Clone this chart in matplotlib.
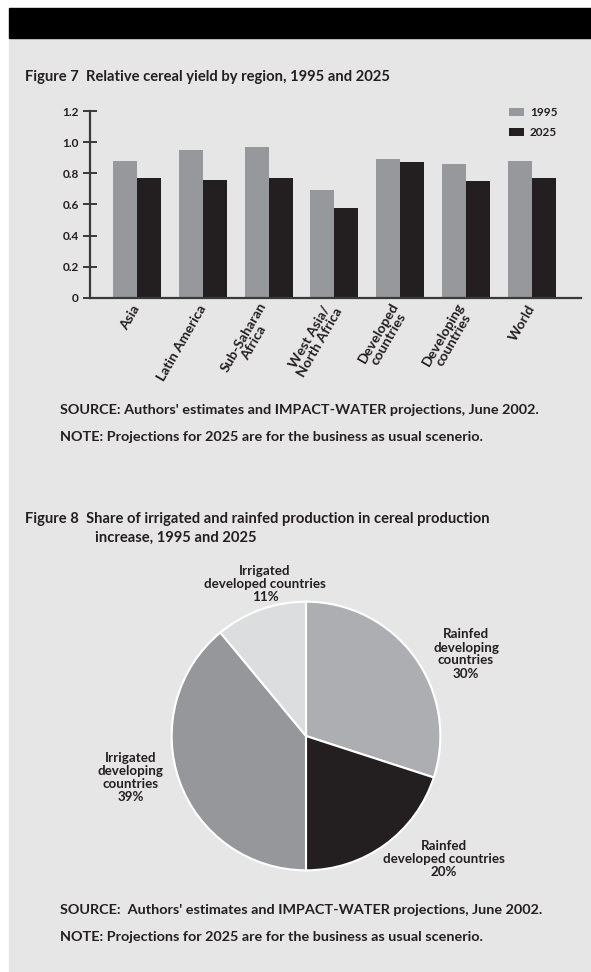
import matplotlib
matplotlib.use('Agg')
import matplotlib.pyplot as plt
import numpy as np

plt.rcParams['font.family'] = ['Lato', 'DejaVu Sans']
plt.rcParams['font.weight'] = 'bold'

# Figure 7 data
regions = ['Asia', 'Latin America', 'Sub-Saharan\nAfrica', 'West Asia/\nNorth Africa',
           'Developed\ncountries', 'Developing\ncountries', 'World']
yield_1995 = [0.88, 0.95, 0.97, 0.69, 0.89, 0.86, 0.88]
yield_2025 = [0.77, 0.76, 0.77, 0.58, 0.87, 0.75, 0.77]
yticks = [0, 0.2, 0.4, 0.6, 0.8, 1.0, 1.2]
ytick_labels = ['0', '0.2', '0.4', '0.6', '0.8', '1.0', '1.2']

# Figure 8 data
slice_names = ['Rainfed\ndeveloping\ncountries', 'Rainfed\ndeveloped countries',
               'Irrigated\ndeveloping\ncountries', 'Irrigated\ndeveloped countries']
slice_shares = [30, 20, 39, 11]

BG = '#e6e6e6'
GREY = '#97989b'
DARK = '#231f20'
TXT = '#231f20'
W, H = 591, 972

fig = plt.figure(figsize=(W / 100, H / 100), dpi=100, facecolor='white')

def px(x, y):
    return x / W, 1 - y / H

# page background and black header band
fig.patches.append(plt.Rectangle(px(9, H), (W - 9) / W, (H - 38) / H,
                                 transform=fig.transFigure, color=BG, zorder=-10))
fig.patches.append(plt.Rectangle(px(9, 38), (W - 9) / W, 30 / H,
                                 transform=fig.transFigure, color='black', zorder=-10))

# ---- Figure 7: bar chart
ax = fig.add_axes([90 / W, 1 - 298 / H, (581 - 90) / W, (298 - 111) / H])
ax.set_facecolor('none')
x = np.arange(len(regions))
bw = 0.365
ax.bar(x - bw / 2, yield_1995, bw, color=GREY, label='1995')
ax.bar(x + bw / 2, yield_2025, bw, color=DARK, label='2025')
ax.set_xlim(-0.714, 6.75)
ax.set_ylim(0, 1.2)
for s in ['top', 'right']:
    ax.spines[s].set_visible(False)
for s in ['left', 'bottom']:
    ax.spines[s].set_color('#3a3a3a')
    ax.spines[s].set_linewidth(1.6)
ax.set_yticks(yticks)
ax.set_yticklabels(ytick_labels, fontsize=8.5, color=TXT, fontweight='bold')
ax.tick_params(axis='y', direction='inout', length=10, width=1.4, color='#3a3a3a', pad=3)
ax.set_xticks(x)
ax.set_xticklabels(regions, rotation=60, ha='right', va='center', rotation_mode='anchor',
                   multialignment='center', fontsize=10, color=TXT, linespacing=0.95)
ax.tick_params(axis='x', length=0, pad=6)
leg = ax.legend(loc='upper left', bbox_to_anchor=(0.843, 1.045), frameon=False,
                fontsize=8.5, handlelength=1.3, handleheight=0.7, handletextpad=0.5,
                labelspacing=0.75, borderaxespad=0)
for t in leg.get_texts():
    t.set_color(TXT)

fig.text(*px(25, 77), 'Figure 7  Relative cereal yield by region, 1995 and 2025',
         fontsize=10.6, va='center', ha='left', color=TXT)
fig.text(*px(60, 410), "SOURCE: Authors' estimates and IMPACT-WATER projections, June 2002.",
         fontsize=10.4, va='center', ha='left', color=TXT)
fig.text(*px(60, 437), 'NOTE: Projections for 2025 are for the business as usual scenerio.',
         fontsize=10.4, va='center', ha='left', color=TXT)

# ---- Figure 8: pie chart
fig.text(*px(25, 519), 'Figure 8  Share of irrigated and rainfed production in cereal production',
         fontsize=10.6, va='center', ha='left', color=TXT)
fig.text(*px(95, 538), 'increase, 1995 and 2025',
         fontsize=10.6, va='center', ha='left', color=TXT)

pax = fig.add_axes([171 / W, 1 - 871 / H, 270 / W, 270 / H])
pax.set_facecolor('none')
pax.pie(slice_shares, colors=['#adaeb1', DARK, '#96979a', '#dcdddf'],
        startangle=90, counterclock=False,
        wedgeprops=dict(edgecolor='white', linewidth=1.5))
pax.set_xlim(-1.005, 1.005)
pax.set_ylim(-1.005, 1.005)
pax.set_aspect('equal')
pax.axis('off')

label_pos = [(466, 654), (444, 859), (131, 777), (265, 584)]
for name, share, (lx, ly) in zip(slice_names, slice_shares, label_pos):
    fig.text(*px(lx, ly), f'{name}\n{share}%', fontsize=9.6, ha='center', va='center',
             multialignment='center', color=TXT, linespacing=1.1)

fig.text(*px(60, 910), "SOURCE:  Authors' estimates and IMPACT-WATER projections, June 2002.",
         fontsize=10.4, va='center', ha='left', color=TXT)
fig.text(*px(60, 937), 'NOTE: Projections for 2025 are for the business as usual scenerio.',
         fontsize=10.4, va='center', ha='left', color=TXT)

fig.savefig('out.png', dpi=100, facecolor='white')
